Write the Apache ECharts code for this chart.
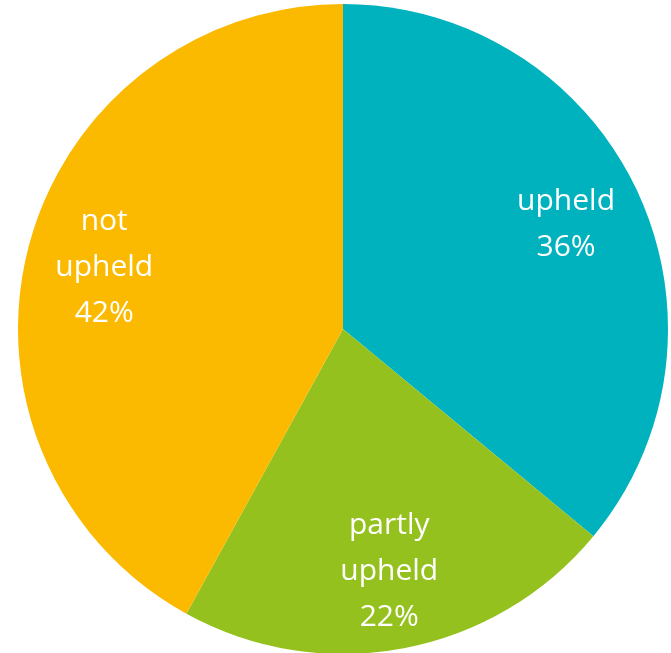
<!DOCTYPE html>
<html>
<head>
<meta charset="utf-8">
<script src="https://cdn.jsdelivr.net/npm/echarts@6/dist/echarts.min.js"></script>
<style>
  html, body { margin: 0; padding: 0; background: #fff; }
  #main { width: 671px; height: 653px; }
</style>
</head>
<body>
<div id="main"></div>
<script type="text/javascript">
	var names = ['upheld', 'partly\nupheld', 'not\nupheld'];
	var values = [36, 22, 42];
	var colors = ['#00B2BD', '#95C11F', '#FBB900'];

	var chart = echarts.init(document.getElementById('main'));

	var slices = [];
	var labelSlices = [];
	for (var i = 0; i < names.length; i++) {
		slices.push({ name: names[i], value: values[i], itemStyle: { color: colors[i] } });
		labelSlices.push({ name: names[i], value: values[i] });
	}

	var center = [343, 329];
	var option = {
		animation: false,
		series: [
			{
				// the visible pie
				type: 'pie',
				center: center,
				radius: [0, 325],
				startAngle: 90,
				clockwise: true,
				silent: true,
				label: { show: false },
				labelLine: { show: false },
				data: slices
			},
			{
				// transparent ring so that "inside" labels sit at 3/4 radius
				type: 'pie',
				center: center,
				radius: [162, 325],
				startAngle: 90,
				clockwise: true,
				silent: true,
				itemStyle: { color: 'rgba(0,0,0,0)' },
				label: {
					show: true,
					position: 'inside',
					color: '#fff',
					fontFamily: 'Open Sans',
					fontSize: 30,
					lineHeight: 46,
					formatter: function (p) {
						return p.name + '\n' + p.value + '%';
					}
				},
				labelLine: { show: false },
				data: labelSlices
			}
		]
	};
	chart.setOption(option);
</script>
</body>
</html>
